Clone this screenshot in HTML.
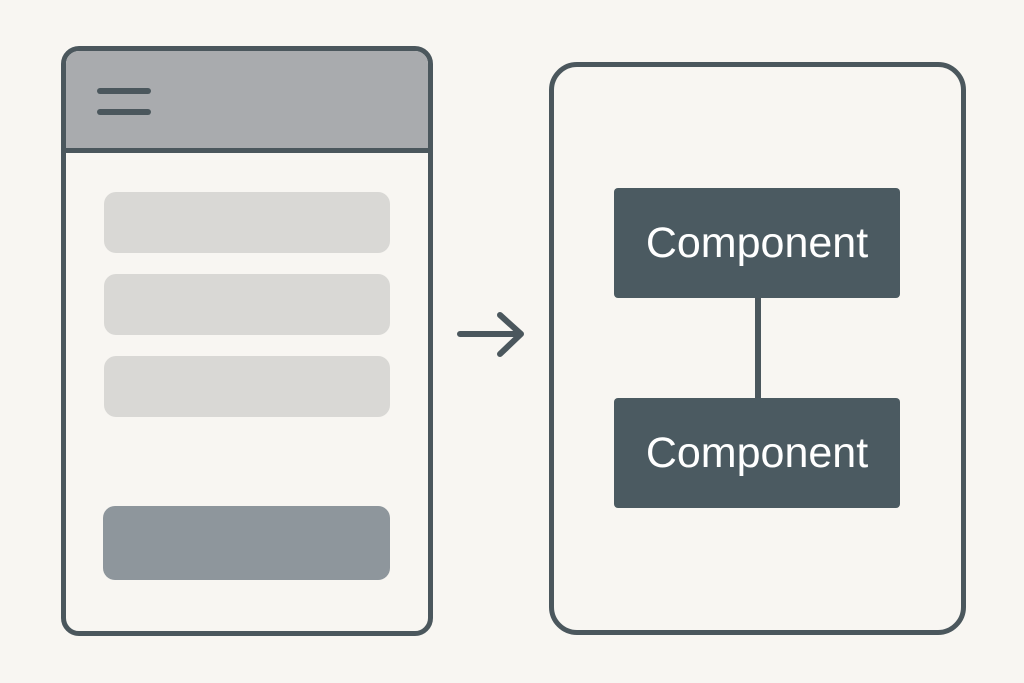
<!DOCTYPE html>
<html><head><meta charset="utf-8"><style>
html,body{margin:0;padding:0;background:#f8f6f2;}
body{width:1024px;height:683px;position:relative;overflow:hidden;font-family:"Liberation Sans",sans-serif;}
.a{position:absolute;box-sizing:border-box;}
</style></head><body>
<div class="a" style="left:61px;top:46px;width:372px;height:590px;border:5px solid #4b575d;border-radius:18px;background:#f8f6f2;overflow:hidden;">
  <div class="a" style="left:0;top:0;width:100%;height:102px;background:#a9abae;border-bottom:5px solid #4b575d;"></div>
  <div class="a" style="left:31px;top:37px;width:54px;height:6px;background:#4b575d;border-radius:3px;"></div>
  <div class="a" style="left:31px;top:58px;width:54px;height:6px;background:#4b575d;border-radius:3px;"></div>
  <div class="a" style="left:38px;top:141px;width:286px;height:61px;background:#d9d8d5;border-radius:12px;"></div>
  <div class="a" style="left:38px;top:223px;width:286px;height:61px;background:#d9d8d5;border-radius:12px;"></div>
  <div class="a" style="left:38px;top:305px;width:286px;height:61px;background:#d9d8d5;border-radius:12px;"></div>
  <div class="a" style="left:37px;top:455px;width:287px;height:74px;background:#8e969c;border-radius:12px;"></div>
</div>
<svg class="a" style="left:455px;top:305px" width="75" height="60"><path d="M5 29 H65 M45 10 L66 29 L45 49" fill="none" stroke="#4b575d" stroke-width="6" stroke-linecap="round" stroke-linejoin="round"/></svg>
<div class="a" style="left:549px;top:62px;width:417px;height:573px;border:5px solid #4b575d;border-radius:28px;"></div>
<div class="a" style="left:755px;top:296px;width:6px;height:106px;background:#4b575d;"></div>
<div class="a" style="left:614px;top:188px;width:286px;height:110px;background:#4b5a61;border-radius:4px;color:#fff;font-size:43px;display:flex;align-items:center;justify-content:center;">Component</div>
<div class="a" style="left:614px;top:398px;width:286px;height:110px;background:#4b5a61;border-radius:4px;color:#fff;font-size:43px;display:flex;align-items:center;justify-content:center;">Component</div>
</body></html>
